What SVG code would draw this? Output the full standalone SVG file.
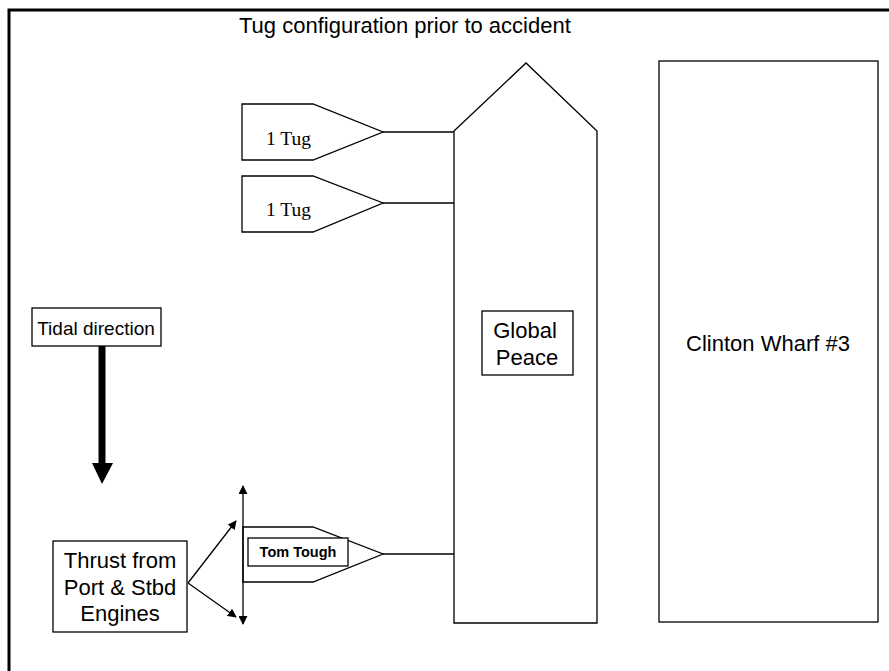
<svg xmlns="http://www.w3.org/2000/svg" width="889" height="671" viewBox="0 0 889 671">
<style>
.ln{fill:none;stroke:#000;stroke-width:1.3}
.sh{fill:#fff;stroke:#000;stroke-width:1.3}
.sans{font-family:"Liberation Sans",Arial,sans-serif;fill:#000}
.serif{font-family:"Liberation Serif","Times New Roman",serif;fill:#000}
</style>
<defs>
<marker id="ah" viewBox="0 0 10 10" refX="9" refY="5" markerWidth="9" markerHeight="9" markerUnits="userSpaceOnUse" orient="auto">
<path d="M0,0 L10,5 L0,10 z" fill="#000"/>
</marker>
</defs>
<rect width="889" height="671" fill="#fff"/>
<g id="frame">
<path d="M9,671 L9,10 L889,10" fill="none" stroke="#000" stroke-width="3"/>
</g>
<text id="title" class="sans" x="239" y="33" font-size="22">Tug configuration prior to accident</text>
<g id="global-peace">
<polygon class="sh" points="454,131 526,63 597,131 597,623 454,623"/>
<rect class="sh" x="482" y="311" width="91" height="64"/>
<text class="sans" x="525" y="338" font-size="22" text-anchor="middle">Global</text>
<text class="sans" x="527" y="365" font-size="22" text-anchor="middle">Peace</text>
</g>
<g id="clinton-wharf">
<rect class="sh" x="659" y="61" width="219" height="561"/>
<text class="sans" x="768" y="351" font-size="22" text-anchor="middle">Clinton Wharf #3</text>
</g>
<g id="tug1">
<polygon class="sh" points="242,104 313,104 383,132 313,160 242,160"/>
<text class="serif" x="266" y="145" font-size="19.5">1 Tug</text>
</g>
<g id="tug2">
<polygon class="sh" points="242,176 313,176 383,203 313,232 242,232"/>
<text class="serif" x="266" y="216" font-size="19.5">1 Tug</text>
</g>
<g id="tom-tough">
<polygon class="sh" points="243,527 313,527 383,554 313,582 243,582"/>
<rect class="sh" x="248" y="538" width="100" height="28"/>
<text class="sans" x="298" y="557" font-size="14.5" font-weight="bold" text-anchor="middle">Tom Tough</text>
</g>
<g id="tidal-direction">
<rect class="sh" x="32" y="308" width="129" height="38"/>
<text class="sans" x="96" y="335" font-size="19" text-anchor="middle">Tidal direction</text>
</g>
<g id="thrust">
<rect class="sh" x="53" y="541" width="134" height="91"/>
<text class="sans" x="120" y="568" font-size="22" text-anchor="middle">Thrust from</text>
<text class="sans" x="120" y="595" font-size="22" text-anchor="middle">Port &amp; Stbd</text>
<text class="sans" x="120" y="621" font-size="22" text-anchor="middle">Engines</text>
</g>
<g id="connectors">
<line class="ln" x1="383" y1="132" x2="454" y2="132"/>
<line class="ln" x1="383" y1="203" x2="454" y2="203"/>
<line class="ln" x1="383" y1="554" x2="454" y2="554"/>
<line x1="102" y1="346" x2="102" y2="464" stroke="#000" stroke-width="7"/>
<polygon points="92,463 113,463 102,484" fill="#000"/>
<line class="ln" x1="188" y1="583" x2="236" y2="521" marker-end="url(#ah)"/>
<line class="ln" x1="188" y1="583" x2="236" y2="617" marker-end="url(#ah)"/>
<line class="ln" x1="243" y1="527" x2="243" y2="486" marker-end="url(#ah)"/>
<line class="ln" x1="243" y1="527" x2="243" y2="624" marker-end="url(#ah)"/>
</g>
</svg>
